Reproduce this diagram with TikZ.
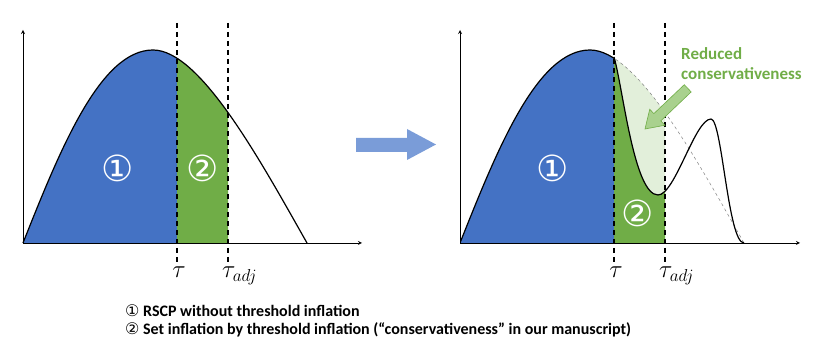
\documentclass[tikz,border=0pt]{standalone}
\usepackage{fontspec}
\setmainfont{Carlito}
\newfontfamily\circfont{DejaVu Sans}
\definecolor{rscpBlue}{RGB}{68,114,196}
\definecolor{inflGreen}{RGB}{112,173,71}
\definecolor{paleGreen}{RGB}{226,239,218}
\definecolor{arrowGreen}{RGB}{169,209,142}
\definecolor{moveBlue}{RGB}{122,156,216}

% density before and after the threshold adjustment
\newcommand{\origcurve}{(0,0) .. controls (37,93) and (77,193) .. (130,193) .. controls (177,193) and (237,83) .. (284,0)}
\newcommand{\adjcurve}{(154,186) .. controls (163,155) and (174,48) .. (198,48) .. controls (215,48) and (235,124) .. (251,124) .. controls (262,124) and (268,0) .. (284,0)}

\tikzset{
  axis/.style={->, >=stealth, line width=0.8pt},
  cutline/.style={dash pattern=on 5pt off 4pt, line width=1.4pt},
  curve/.style={line width=1.2pt},
  regionlabel/.style={text=white, font=\circfont\fontsize{36}{36}\selectfont},
  ticklabel/.style={font=\fontsize{25}{28}\selectfont, inner sep=0pt},
  legendline/.style={anchor=base west, inner sep=0pt, font=\bfseries\fontsize{16}{18}\selectfont}
}

\begin{document}
\begin{tikzpicture}[x=1pt,y=1pt]
  \useasboundingbox (0,0) rectangle (814,352);

  % Left panel
  \begin{scope}[shift={(23,109)}]
    \begin{scope}
      \clip (0,0) rectangle (154,220);
      \fill[rscpBlue] \origcurve -- cycle;
    \end{scope}
    \begin{scope}
      \clip (154,0) rectangle (205,220);
      \fill[inflGreen] \origcurve -- cycle;
    \end{scope}
    \draw[curve] \origcurve;
    \draw[axis] (0,0) -- (0,213);
    \draw[axis] (0,0) -- (339,0);

    % Thresholds
    \draw[cutline] (154,220) -- (154,-22);
    \draw[cutline] (205,220) -- (205,-22);
    \node[ticklabel, anchor=north] (tauL) at (156,-24) {$\tau$};
    \node[ticklabel, anchor=north west] (tauadjL) at (199,-24) {$\tau_{adj}$};

    \node[regionlabel] (oneL) at (95,75) {①};
    \node[regionlabel] (twoL) at (180,75) {②};
  \end{scope}

  % Arrow between panels
  \fill[moveBlue] (356,200) -- (407,200) -- (407,192) -- (436,207.5) -- (407,223) -- (407,214) -- (356,214) -- cycle;

  % Right panel
  \begin{scope}[shift={(460,109)}]
    \begin{scope}
      \clip (0,0) rectangle (154,220);
      \fill[rscpBlue] \origcurve -- cycle;
      \draw[curve] \origcurve;
    \end{scope}
    \begin{scope}
      \clip (154,0) rectangle (205,220);
      \fill[paleGreen] \origcurve -- cycle;
      \fill[inflGreen] (154,0) -- \adjcurve -- cycle;
    \end{scope}
    \begin{scope}
      \clip (154,0) rectangle (300,220);
      \draw[gray, dashed, line width=0.5pt] \origcurve;
    \end{scope}
    \draw[curve] \adjcurve;
    \draw[axis] (0,0) -- (0,213);
    \draw[axis] (0,0) -- (340,0);

    % Thresholds
    \draw[cutline] (154,220) -- (154,-22);
    \draw[cutline] (205,220) -- (205,-22);
    \node[ticklabel, anchor=north] (tauR) at (156,-24) {$\tau$};
    \node[ticklabel, anchor=north west] (tauadjR) at (199,-24) {$\tau_{adj}$};

    \node[regionlabel] (oneR) at (93,75) {①};
    \node[regionlabel] (twoR) at (178,30) {②};

    % Reduced part
    \node[anchor=north west, align=left, text=inflGreen, inner sep=0pt,
          font=\bfseries\fontsize{17}{20}\selectfont] (reduced) at (221,196) {Reduced\\conservativeness};
    \begin{scope}[shift={(185,114)}, rotate=43.6]
      \filldraw[fill=arrowGreen, draw=inflGreen, line width=0.6pt]
        (0,0) -- (17,11) -- (17,5) -- (59,5) -- (59,-5) -- (17,-5) -- (17,-11) -- cycle;
    \end{scope}
  \end{scope}

  % Legend
  \node[legendline] (legendOne) at (125,35) {{\circfont\mdseries ①} RSCP without threshold inflation};
  \node[legendline] (legendTwo) at (125,17) {{\circfont\mdseries ②} Set inflation by threshold inflation (“conservativeness” in our manuscript)};
\end{tikzpicture}
\end{document}
